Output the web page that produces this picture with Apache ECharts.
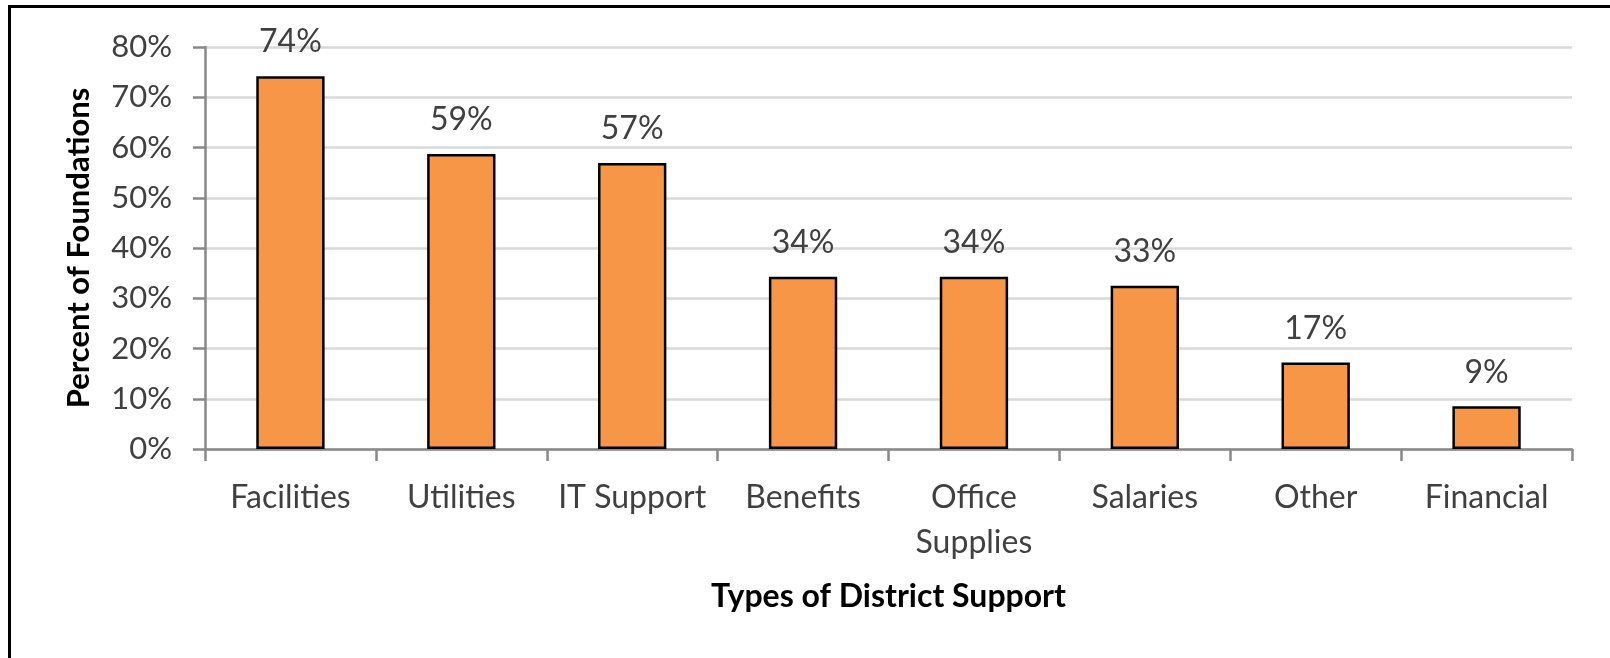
<!DOCTYPE html>
<html><head><meta charset="utf-8">
<script src="https://cdn.jsdelivr.net/npm/echarts@6/dist/echarts.min.js"></script>
<style>
html,body{margin:0;padding:0;background:#fff;}
#frame{position:absolute;left:8px;top:5px;width:1602px;height:653px;border-top:3px solid #000;border-left:3px solid #000;box-sizing:border-box;}
#chart{position:absolute;left:0;top:0;width:1610px;height:658px;}
</style></head>
<body>
<div id="frame"></div>
<div id="chart"></div>
<script>
const categories = ['Facilities','Utilities','IT Support','Benefits','Office\nSupplies','Salaries','Other','Financial'];
const values = [74.2, 58.7, 56.9, 34.3, 34.3, 32.5, 17.2, 8.5];
const yTicks = [0,10,20,30,40,50,60,70,80];
const font = 'Lato, "Open Sans", sans-serif';
const chart = echarts.init(document.getElementById('chart'));
chart.setOption({
  animation:false,
  grid:{left:205,right:38,top:47,bottom:209,containLabel:false},
  xAxis:{
    type:'category', data:categories,
    name:'Types of District Support', nameLocation:'middle', nameGap:132,
    nameTextStyle:{fontFamily:font,fontSize:32,fontWeight:'bold',color:'#000'},
    axisLine:{lineStyle:{color:'#898989',width:2.5}},
    axisTick:{show:true,alignWithLabel:false,length:12,lineStyle:{color:'#898989',width:2.5}},
    axisLabel:{fontFamily:font,fontSize:32,color:'#404040',margin:26,lineHeight:45,interval:0}
  },
  yAxis:{
    type:'value', min:yTicks[0], max:yTicks[yTicks.length-1], interval:10,
    name:'Percent of Foundations', nameLocation:'middle', nameGap:111,
    nameTextStyle:{fontFamily:font,fontSize:31,fontWeight:'bold',color:'#000'},
    axisLine:{show:true,lineStyle:{color:'#898989',width:2.5}},
    axisTick:{show:true,length:12,lineStyle:{color:'#898989',width:2.5}},
    axisLabel:{fontFamily:font,fontSize:31,color:'#404040',margin:33,formatter:v=>v+'%'},
    splitLine:{lineStyle:{color:'#d9d9d9',width:2.5}}
  },
  series:[{
    type:'bar', data:values, barWidth:'40%',
    itemStyle:{color:'#F79646',borderColor:'#000',borderWidth:2.5},
    label:{show:true,position:'top',distance:18,fontFamily:font,fontSize:32,color:'#404040',
      formatter:p=>Math.round(p.value)+'%'}
  }]
});
</script>
</body></html>
